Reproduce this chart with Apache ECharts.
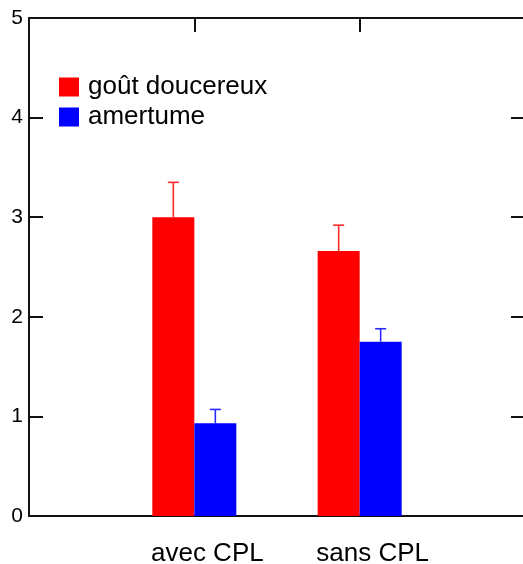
<!DOCTYPE html>
<html>
<head>
<meta charset="utf-8">
<script src="https://cdn.jsdelivr.net/npm/echarts@6/dist/echarts.min.js"></script>
<style>
html,body{margin:0;padding:0;background:#fff;overflow:hidden;}
#chart{width:523px;height:564px;}
</style>
</head>
<body>
<div id="chart"></div>
<script>
// categories (empty slots pad the axis on both sides)
const categories = ['', 'avec CPL', 'sans CPL', ''];
const seriesNames = ['goût doucereux', 'amertume'];
const sweetValues = ['-', 3.0, 2.66, '-'];
const bitterValues = ['-', 0.93, 1.75, '-'];
const sweetErrTop = [null, 3.35, 2.92, null];
const bitterErrTop = [null, 1.07, 1.88, null];
const yTicks = [0, 1, 2, 3, 4, 5];

const RED = '#ff0000', BLUE = '#0000ff';
const BAR_W = 42;
const AXIS_COL = '#111';

const chart = echarts.init(document.getElementById('chart'), null, {renderer: 'canvas'});

function errSeries(name, tops, vals, color, side) {
  const data = [];
  tops.forEach((t, i) => { if (t !== null) data.push([i, vals[i], t]); });
  return {
    type: 'custom', name: name + ' err', xAxisIndex: 0, yAxisIndex: 0, silent: true, z: 5, data: data,
    renderItem: function (params, api) {
      const base = api.coord([api.value(0), api.value(1)]);
      const top = api.coord([api.value(0), api.value(2)]);
      const x = base[0] + side * BAR_W / 2;
      const capHalf = 5.5;
      return {type: 'group', children: [
        {type: 'line', shape: {x1: x, y1: base[1], x2: x, y2: top[1]}, style: {stroke: color, lineWidth: 1.6}},
        {type: 'line', shape: {x1: x - capHalf, y1: top[1], x2: x + capHalf, y2: top[1]}, style: {stroke: color, lineWidth: 1.6}}
      ]};
    }
  };
}

chart.setOption({
  animation: false,
  backgroundColor: '#fff',
  textStyle: {fontFamily: 'Liberation Sans, Arial, sans-serif', color: '#000'},
  grid: {left: 29, top: 18, width: 496, height: 498, containLabel: false, outerBoundsMode: 'none'},
  legend: {
    orient: 'vertical', left: 59, top: 74, padding: 0,
    itemWidth: 20, itemHeight: 19, itemGap: 4, icon: 'rect', data: seriesNames,
    textStyle: {fontSize: 26, color: '#000', fontFamily: 'Liberation Sans, Arial, sans-serif', padding: [0, 0, 0, 4]}
  },
  xAxis: [
    {type: 'category', data: categories, boundaryGap: false, position: 'bottom',
      axisLine: {show: true, onZero: false, lineStyle: {color: AXIS_COL, width: 2}},
      axisTick: {show: false},
      axisLabel: {fontSize: 26, color: '#000', margin: 25, interval: 0, padding: [0, 0, 0, 26]},
      splitLine: {show: false}},
    {type: 'category', data: categories, boundaryGap: false, position: 'top',
      axisLine: {show: true, onZero: false, lineStyle: {color: AXIS_COL, width: 2}},
      axisTick: {show: true, inside: true, length: 14, lineStyle: {color: AXIS_COL, width: 2}},
      axisLabel: {show: false}, splitLine: {show: false}}
  ],
  yAxis: [
    {type: 'value', min: 0, max: 5, interval: 1, position: 'left',
      axisLine: {show: true, onZero: false, lineStyle: {color: AXIS_COL, width: 2}},
      axisTick: {show: true, inside: true, length: 14, lineStyle: {color: AXIS_COL, width: 2}},
      axisLabel: {fontSize: 21, color: '#000', margin: 6, formatter: v => yTicks.indexOf(v) >= 0 ? String(v) : ''},
      splitLine: {show: false}},
    {type: 'value', min: 0, max: 5, interval: 1, position: 'right',
      axisLine: {show: true, onZero: false, lineStyle: {color: AXIS_COL, width: 2}},
      axisTick: {show: true, inside: true, length: 14, lineStyle: {color: AXIS_COL, width: 2}},
      axisLabel: {show: false}, splitLine: {show: false}}
  ],
  series: [
    {name: seriesNames[0], type: 'bar', data: sweetValues, barWidth: BAR_W, barGap: '0%', itemStyle: {color: RED}},
    {name: seriesNames[1], type: 'bar', data: bitterValues, barWidth: BAR_W, barGap: '0%', itemStyle: {color: BLUE}},
    errSeries(seriesNames[0], sweetErrTop, sweetValues, '#ff2a2a', -1),
    errSeries(seriesNames[1], bitterErrTop, bitterValues, '#2a2aff', 1)
  ]
});
</script>
</body>
</html>
